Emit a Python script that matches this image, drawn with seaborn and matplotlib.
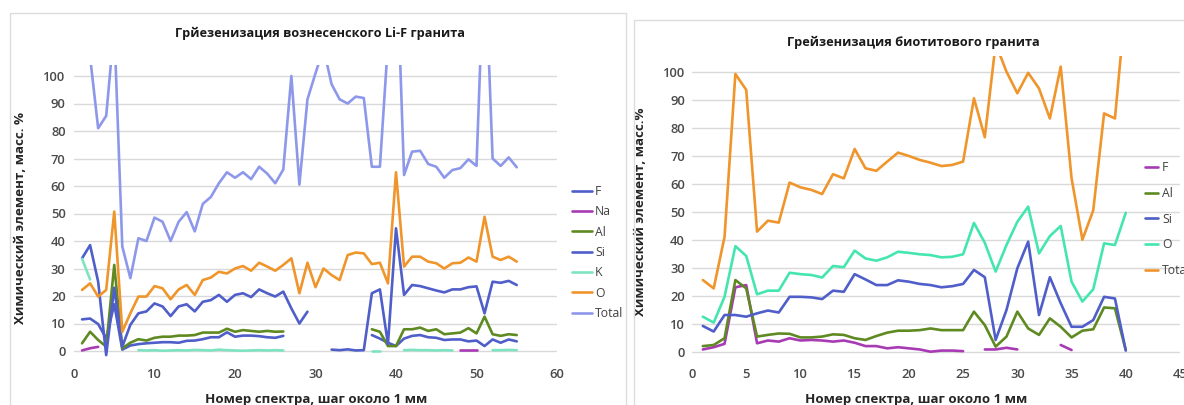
import numpy as np
import pandas as pd
import matplotlib.pyplot as plt
import seaborn as sns
from matplotlib.lines import Line2D
from matplotlib.patches import Rectangle

nan = np.nan

# --- left chart: Li-F granite, spectra 1..55 ---
x_left = list(range(1, 56))
f_left = [11.5, 11.8, 9.8, 4.6, 17, 0.5, 2, 2.5, 2.8, 3, 3.2, 3.2, 3.0, 3.7, 3.8, 4.3, 5.0, 5, 6.8, 5.2,
          5.6, 5.6, 5.4, 5, 4.8, 5.5, nan, nan, nan, nan, nan, nan, nan, nan, nan, nan, 5.8, 4.5, 3, 1.8,
          4.5, 5.5, 5.8, 5, 4.8, 4, 4.2, 4.2, 3.5, 3.8, 1.8, 4.2, 3, 4.2, 3.5]
na_left = [0.2, 1.0, 1.5] + [nan] * 44 + [0.2, 0.2, 0.2] + [nan] * 5
al_left = [2.8, 7, 4, 1.6, 31.3, 1, 3, 4.3, 3.8, 4.8, 5.2, 5.2, 5.6, 5.6, 5.8, 6.7, 6.7, 6.7, 8.1, 7,
           7.6, 7.3, 7, 7.3, 7, 7.1, nan, nan, nan, nan, nan, nan, nan, nan, nan, nan, 7.9, 7, 1.8, 1.8,
           7.9, 7.9, 8.5, 7.3, 7.9, 6.1, 6.4, 6.7, 8.3, 6.4, 12.5, 6.1, 5.5, 6.1, 5.8]
si_left = [33.7, 38.5, 25.2, -1.5, 23, 1.6, 9.5, 13.7, 14.4, 17.3, 16.2, 12.7, 16.2, 17, 14.4, 17.9, 18.5,
           20.4, 17.9, 20.4, 21, 19.6, 22.4, 21, 19.8, 21.6, 15.5, 10, 14.3, nan, nan, 0.5, 0.3, 0.6, 0.2,
           0.3, 21, 22.4, 2.5, 44.6, 20.4, 24, 23.6, 22.8, 22, 21.3, 22.4, 22.4, 23.2, 23.5, 13.7, 25.2,
           24.8, 25.5, 24]
k_left = [33.5, 26, nan, nan, nan, nan, nan, 0.3, 0.2, 0.3, 0.1, 0.2, 0.3, 0.2, 0.4, 0.3, 0.2, 0.5, 0.3,
          0.2, 0.1, 0.2, 0.3, 0.2, 0.3, 0.2, nan, nan, nan, nan, nan, nan, nan, nan, nan, nan, 0.1, 0.1,
          nan, nan, 0.3, 0.4, 0.3, 0.3, 0.2, 0.3, 0.2, nan, nan, nan, nan, 0.3, 0.3, 0.4, 0.3]
o_left = [22.2, 24.6, 19.8, 22.2, 50.7, 7, 13.7, 19.8, 19.8, 23.6, 22.8, 18.8, 22.4, 24, 20.4, 25.8, 26.7,
          28.8, 28.2, 30, 30.9, 29.2, 32.1, 30.7, 29.2, 31.3, 33.7, 21, 32.1, 23.2, 30, 27.6, 25.8, 34.9,
          35.8, 35.5, 31.6, 32.1, 24.6, 65, 30.7, 34.3, 34.3, 32.5, 31.9, 30, 31.9, 32.1, 34, 32.5, 48.8,
          34.3, 33.1, 34.3, 32.5]
total_left = [110, 107, 81, 85.5, 118, 38, 26.5, 41, 40, 48.5, 47, 40, 47, 50.5, 43.5, 53.5, 56, 61, 65,
              63, 65, 62.5, 67, 64.5, 61, 66, 100, 60.5, 91.5, 101, 110, 97, 91.5, 90, 92.5, 92, 67, 67,
              112, 150, 64, 72.5, 72.8, 68, 67, 63, 65.8, 66.5, 69.7, 67.3, 148, 70, 67.3, 70.4, 66.8]

# --- right chart: biotite granite, spectra 1..40 ---
x_right = list(range(1, 41))
f_right = [0.8, 1.6, 2.8, 23, 23.8, 3, 4, 3.6, 4.8, 4, 4.2, 4, 3.6, 4, 3.2, 2, 2, 1.2, 1.6, 1.2,
           0.8, 0, 0.4, 0.4, 0.2, nan, 0.8, 0.8, 1.4, 0.8, nan, nan, nan, 2.4, 0.6, nan, nan, nan, nan, nan]
al_right = [2, 2.4, 4.8, 25.6, 22.6, 5.4, 6, 6.5, 6.4, 5.1, 5.1, 5.4, 6.2, 6, 4.8, 4.2, 5.6, 6.8, 7.5, 7.5,
            7.7, 8.3, 7.7, 7.7, 7.7, 14.3, 9.5, 1.8, 5.4, 14.3, 8.3, 6, 11.9, 8.9, 5.1, 7.5, 8, 15.8, 15.5, 0.6]
si_right = [9.2, 7.2, 13.1, 13.1, 12.5, 13.7, 14.7, 14, 19.6, 19.6, 19.4, 18.8, 21.8, 21.4, 27.7, 25.8,
            23.8, 23.8, 25.5, 25, 24.2, 23.8, 23, 23.4, 24.2, 29.2, 26.6, 4.2, 14.9, 29.8, 39.3, 13.1,
            26.6, 17.3, 8.9, 8.9, 11.3, 19.6, 19, 0.4]
o_right = [12.5, 10.4, 19.6, 37.7, 34.2, 20.5, 21.8, 21.8, 28.2, 27.7, 27.4, 26.5, 30.6, 30.2, 36.1, 33.3,
           32.5, 33.7, 35.7, 35.3, 34.8, 34.5, 33.7, 33.9, 34.8, 46, 38.9, 28.6, 38.1, 46.4, 51.8, 35.1,
           41.3, 44.9, 25, 17.9, 22.3, 38.7, 38.1, 49.6]
total_right = [25.6, 22.6, 41, 99.2, 93.5, 42.9, 46.8, 46.1, 60.4, 58.7, 57.8, 56.3, 63.4, 61.9, 72.4,
               65.5, 64.6, 67.9, 71.1, 69.9, 68.5, 67.5, 66.3, 66.7, 67.9, 90.5, 76.6, 110, 100, 92.3,
               99.6, 94, 83.3, 101.8, 62, 40, 50.5, 85.1, 83.3, 125]

BLUE = "#4f5ec9"
PURPLE = "#a83ab4"
OLIVE = "#5f8a22"
MINT = "#7fe3c2"
MINT2 = "#45e6ae"
ORANGE = "#f0952b"
PERI = "#8e98ea"
LW = 1.9

sns.set_style("white")
plt.rcParams["font.family"] = ["Open Sans", "DejaVu Sans"]

fig = plt.figure(figsize=(11.84, 4.05), dpi=100)

# chart area borders
fig.patches.append(Rectangle((10 / 1184, -0.1), 616 / 1184, 1.1 - 13 / 405, transform=fig.transFigure,
                             fill=False, edgecolor="#dcdcdc", lw=1))
fig.patches.append(Rectangle((634 / 1184, -0.1), 1, 1.1 - 20 / 405, transform=fig.transFigure,
                             fill=False, edgecolor="#dcdcdc", lw=1))


def draw(ax, x, y, color):
    d = pd.DataFrame({"x": x, "y": y})
    d["seg"] = d["y"].isna().cumsum()
    d = d.dropna()
    sns.lineplot(data=d, x="x", y="y", units="seg", estimator=None, color=color,
                 lw=LW, ax=ax, legend=False)


def style(ax, xmax, xstep, ylo, yhi):
    ax.set_xlim(0, xmax)
    ax.set_ylim(ylo, yhi)
    ax.set_xticks(np.arange(0, xmax + 1, xstep))
    ax.set_yticks(np.arange(0, 101, 10))
    ax.grid(axis="y", color="#d9d9d9", lw=1)
    ax.set_axisbelow(True)
    for s in ax.spines.values():
        s.set_visible(False)
    ax.tick_params(length=0, labelsize=9.4, labelcolor="#4a4a4a")
    plt.setp(ax.get_xticklabels() + ax.get_yticklabels(), fontweight="semibold")


# left
axl = fig.add_axes([74 / 1184, (405 - 356.5) / 405, 483 / 1184, 291.5 / 405])
left_series = [("F", f_left, BLUE), ("Na", na_left, PURPLE), ("Al", al_left, OLIVE),
               ("Si", si_left, BLUE), ("K", k_left, MINT), ("O", o_left, ORANGE),
               ("Total", total_left, PERI)]
for name, vals, col in left_series:
    draw(axl, x_left, vals, col)
style(axl, 60, 10, -2, 104)
axl.tick_params(axis="x", pad=8)
axl.tick_params(axis="y", pad=6)
axl.set_xlabel("Номер спектра, шаг около 1 мм", fontsize=9.6, fontweight="bold", color="#262626")
axl.set_ylabel("Химический элемент, масс. %", fontsize=9.6, fontweight="bold", color="#262626")
axl.xaxis.set_label_coords(0.501, -0.125)
axl.yaxis.set_label_coords(-0.098, 0.475)
fig.text(320 / 1184, 1 - 33 / 405, "Грйезенизация вознесенского Li-F гранита", ha="center", va="center",
         fontsize=9.2, fontweight="bold", color="#1a1a1a")
fig.legend([Line2D([], [], color=c, lw=LW) for _, _, c in left_series],
           [n for n, _, _ in left_series], loc="upper left",
           bbox_to_anchor=(572 / 1184, 1 - 185 / 405), frameon=False, fontsize=8.8,
           labelcolor="#404040", handlelength=1.6, handletextpad=0.3, labelspacing=0.6,
           borderpad=0, borderaxespad=0)

# right
axr = fig.add_axes([692 / 1184, (405 - 354.5) / 405, 488 / 1184, 298.2 / 405])
right_series = [("F", f_right, PURPLE), ("Al", al_right, OLIVE), ("Si", si_right, BLUE),
                ("O", o_right, MINT2), ("Total", total_right, ORANGE)]
for name, vals, col in right_series:
    draw(axr, x_right, vals, col)
style(axr, 45, 5, -1, 105.5)
axr.tick_params(axis="x", pad=9.5)
axr.tick_params(axis="y", pad=5)
axr.set_xlabel("Номер спектра, шаг около 1 мм", fontsize=9.6, fontweight="bold", color="#262626")
axr.set_ylabel("Химический элемент, масс.%", fontsize=9.6, fontweight="bold", color="#262626")
axr.xaxis.set_label_coords(0.459, -0.129)
axr.yaxis.set_label_coords(-0.093, 0.478)
fig.text(913 / 1184, 1 - 42 / 405, "Грейзенизация биотитового гранита", ha="center", va="center",
         fontsize=9.2, fontweight="bold", color="#1a1a1a")
fig.legend([Line2D([], [], color=c, lw=LW) for _, _, c in right_series],
           [n for n, _, _ in right_series], loc="upper left",
           bbox_to_anchor=(1145 / 1184, 1 - 161 / 405), frameon=False, fontsize=8.8,
           labelcolor="#404040", handlelength=1.1, handletextpad=0.3, labelspacing=1.05,
           borderpad=0, borderaxespad=0)

fig.savefig("out.png", dpi=100, facecolor="white")
